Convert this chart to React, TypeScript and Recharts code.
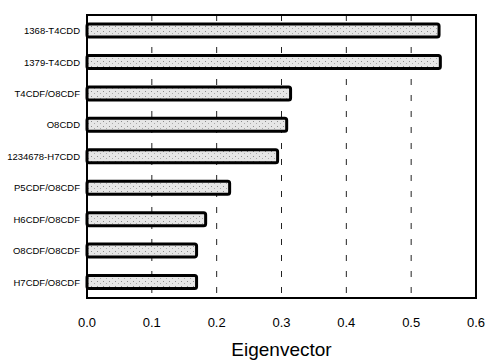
import React from 'react';
import { BarChart, Bar, XAxis, YAxis, CartesianGrid, Label, ReferenceArea } from 'recharts';

const congeners = [
  '1368-T4CDD',
  '1379-T4CDD',
  'T4CDF/O8CDF',
  'O8CDD',
  '1234678-H7CDD',
  'P5CDF/O8CDF',
  'H6CDF/O8CDF',
  'O8CDF/O8CDF',
  'H7CDF/O8CDF',
];
const eigenvector = [0.543, 0.545, 0.314, 0.308, 0.294, 0.22, 0.183, 0.169, 0.169];
const xTicks = [0, 0.1, 0.2, 0.3, 0.4, 0.5, 0.6];

const data = congeners.map((name, i) => ({ name, value: eigenvector[i] }));

const font = '"Liberation Sans Narrow", "Liberation Sans", Arial, sans-serif';

export default function App() {
  return (
    <div style={{ position: 'absolute', left: 0, top: 0, background: '#fff' }}>
      <BarChart
        width={490}
        height={364}
        data={data}
        layout="vertical"
        margin={{ top: 15, right: 14, bottom: 0, left: 0 }}
        barCategoryGap={0}
      >
        <defs>
          <pattern id="stipple" width="6" height="5" patternUnits="userSpaceOnUse">
            <rect width="6" height="5" fill="#e6e6e6" />
            <rect x="1" y="1" width="1" height="1" fill="#8c8c8c" />
            <rect x="4" y="3" width="1" height="1" fill="#aaaaaa" />
          </pattern>
        </defs>
        <CartesianGrid
          horizontal={false}
          stroke="#222"
          strokeDasharray="6 10"
          strokeWidth={1}
        />
        <XAxis
          type="number"
          domain={[0, 0.6]}
          ticks={xTicks}
          tickFormatter={(v: number) => v.toFixed(1)}
          tickLine={false}
          tickSize={8}
          tickMargin={12}
          axisLine={{ stroke: '#000', strokeWidth: 2 }}
          height={66}
          tick={{ fill: '#000', fontSize: 13, fontFamily: font }}
        >
          <Label
            value="Eigenvector"
            position="insideBottom"
            offset={8}
            style={{ fill: '#000', fontSize: 19, fontFamily: font }}
          />
        </XAxis>
        <YAxis
          type="category"
          dataKey="name"
          width={87}
          tickLine={false}
          tickSize={0}
          tickMargin={7}
          interval={0}
          axisLine={{ stroke: '#000', strokeWidth: 2 }}
          tick={{ fill: '#000', fontSize: 9.5, fontFamily: font }}
        />
        <ReferenceArea
          x1={0}
          x2={0.6}
          fill="none"
          stroke="#000"
          strokeWidth={2}
          ifOverflow="visible"
        />
        <Bar
          dataKey="value"
          fill="url(#stipple)"
          stroke="#000"
          strokeWidth={3}
          barSize={13}
          radius={2}
          isAnimationActive={false}
        />
      </BarChart>
    </div>
  );
}
